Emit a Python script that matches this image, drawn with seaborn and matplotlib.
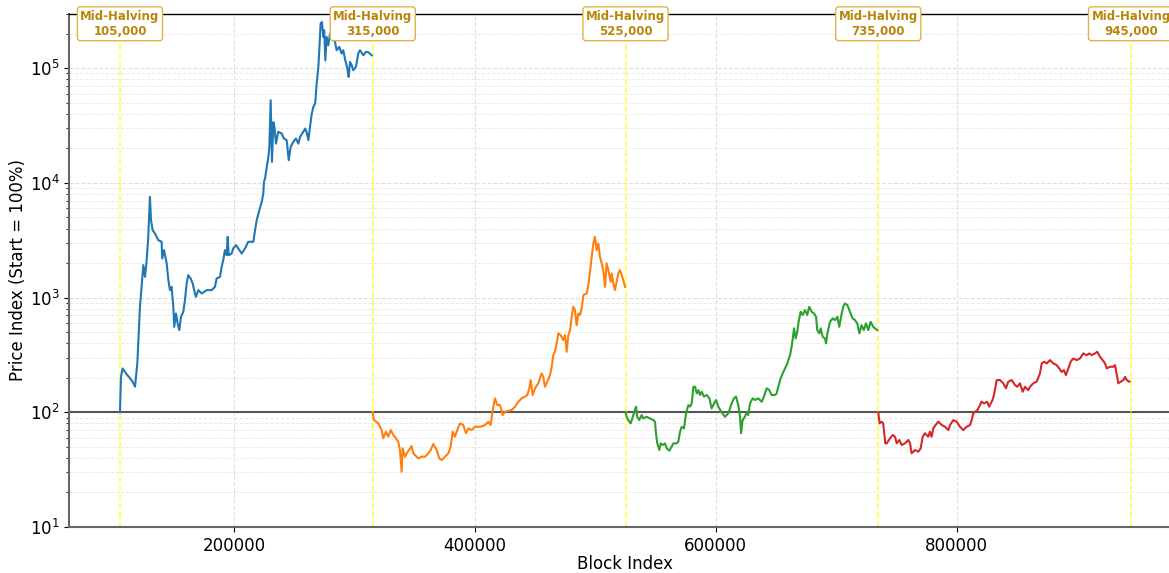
import matplotlib
matplotlib.use("Agg")
import matplotlib.pyplot as plt
import matplotlib.transforms as mtransforms
import numpy as np
import pandas as pd
import seaborn as sns

# Price index per halving-centred cycle (start of each cycle = 100)
cycle1_blocks = [105000, 105800, 107200, 110500, 113000, 115500, 117500, 119400, 120200, 121600,
                 124400, 125800, 127200, 128500, 129900, 130800, 132100, 134100, 136800, 139600,
                 140100, 141600, 143800, 145200, 146500, 147900, 149300, 150100, 151500, 152900,
                 154300, 155700, 157600, 159000, 160400, 161700, 163700, 165400, 167300, 168100,
                 170100, 172900, 177000, 181200, 183900, 185300, 188100, 189500, 190800, 192200,
                 193600, 194500, 195300, 197800, 199100, 201400, 203300, 206100, 208900, 211600,
                 215800, 217200, 218600, 220800, 222800, 224100, 224600, 225500, 227400, 228300,
                 229100, 230200, 231300, 232400, 233300, 234600, 236500, 239300, 241200, 243500,
                 245200, 246800, 249000, 251200, 253200, 254600, 257300, 258900, 260000, 261500,
                 262900, 264300, 265600, 267200, 268400, 269800, 270600, 271700, 272800, 273900,
                 274700, 275600, 276700, 278100, 279500, 281500, 283600, 285000, 287200, 289100,
                 290500, 292200, 293900, 295000, 296100, 297500, 298800, 301000, 303000, 304400,
                 307200, 309400, 311300, 314100]
cycle1_index = [100, 204, 241, 215, 200, 185, 167, 267, 399, 832,
                1919, 1517, 2124, 3390, 7550, 4730, 3873, 3623, 3170, 3069,
                2196, 2594, 1987, 1422, 1162, 1241, 832, 556, 728, 596,
                521, 681, 752, 950, 1330, 1570, 1469, 1330, 1086, 1016,
                1162, 1086, 1162, 1162, 1241, 1469, 1517, 1857, 2124, 2594,
                2344, 3390, 2344, 2425, 2685, 2870, 2685, 2425, 2685, 3069,
                3069, 3873, 4730, 5790, 6840, 8090, 10200, 10900, 14750, 16870,
                20600, 52600, 15250, 33900, 30800, 22000, 27900, 27000, 24400, 23600,
                15770, 20600, 22800, 24400, 22000, 25200, 27900, 29800, 27900, 23600,
                30800, 40100, 45800, 49300, 73300, 102500, 143500, 245000, 253000, 187500,
                214300, 117000, 187500, 158500, 200500, 187500, 170000, 143500, 153500, 134300,
                143500, 117000, 99500, 84000, 113500, 106200, 96000, 102500, 134300, 143500,
                129700, 138700, 138000, 129700]

cycle2_blocks = [315000, 316000, 319600, 322400, 323700, 326000, 327900, 329900, 332100, 334300,
                 336200, 337600, 339000, 339900, 341800, 343200, 346000, 347300, 348700, 350100,
                 352800, 355600, 358400, 361100, 363100, 365300, 368100, 370300, 372300, 375000,
                 377800, 379700, 381400, 383300, 385200, 387500, 390200, 392500, 394400, 397200,
                 399900, 404100, 408300, 411000, 413000, 414700, 416600, 418500, 420700, 423000,
                 424900, 427600, 430400, 433200, 436000, 438700, 441500, 443400, 445100, 446200,
                 447900, 449800, 452500, 455300, 456700, 458100, 460000, 462300, 463700, 465000,
                 466400, 467800, 469200, 471100, 473300, 474700, 476100, 477500, 478900, 480300,
                 481600, 483000, 484400, 485800, 487200, 488600, 490000, 492700, 494100, 495500,
                 496900, 498300, 499600, 501000, 502400, 503800, 505200, 506500, 508000, 509300,
                 510700, 512700, 513500, 514900, 516200, 517600, 519000, 520400, 521800, 523200,
                 524600]
cycle2_index = [100, 85.5, 80.1, 70, 59.3, 67.7, 61.2, 70, 63.4, 59.3,
                55.3, 46.9, 30.3, 48.5, 41, 43.9, 48.5, 50.8, 43.9, 42.4,
                39.7, 41, 41, 43.9, 46.9, 52.9, 46.9, 39.7, 38.4, 41,
                43.9, 50.1, 67.7, 61.2, 70, 80.1, 77.5, 65.7, 72.4, 70,
                74.8, 74.8, 77.5, 82.8, 77.5, 104.7, 132.4, 115.6, 115.6, 94.6,
                101, 103, 104.7, 112, 123.6, 132.4, 137, 141.5, 161.8, 191,
                141.5, 162, 179, 218, 204, 167, 185, 211, 249.5, 315,
                337, 399, 487.5, 471, 427, 471, 337, 471, 521, 681,
                832, 778, 575, 728, 705, 805, 1052, 1086, 1285, 1680,
                2270, 2966, 3390, 2594, 2966, 2270, 1987, 1737, 1241, 1987,
                1737, 1375, 1625, 1330, 1162, 1375, 1625, 1737, 1570, 1422,
                1241]

cycle3_blocks = [525000, 526000, 527300, 529300, 531500, 533700, 534800, 536400, 538400, 539800,
                 542600, 545300, 548100, 549500, 550300, 551400, 553100, 554200, 555900, 557800,
                 559200, 561400, 563300, 564700, 567500, 568800, 570300, 571700, 573600, 575300,
                 577200, 578600, 580000, 581400, 582800, 584200, 585600, 586900, 588300, 590200,
                 592500, 594700, 596500, 597900, 600200, 602100, 604900, 607700, 610400, 613200,
                 615100, 616800, 618700, 620100, 621000, 622300, 624200, 625600, 627000, 628400,
                 630600, 632600, 635300, 638100, 640000, 642300, 644500, 646400, 649200, 650600,
                 651900, 653900, 655600, 657500, 658900, 660300, 661700, 663000, 663800, 665000,
                 666400, 667700, 668800, 670500, 672200, 674100, 676000, 677600, 679700, 681600,
                 683300, 684300, 686000, 687200, 688800, 690700, 691600, 692700, 694900, 697100,
                 699000, 701000, 702600, 704600, 705900, 707300, 709300, 711500, 713700, 715600,
                 717500, 719300, 721100, 723000, 724800, 726700, 728600, 730800, 732200, 734200]
cycle3_index = [100, 91.4, 85.5, 80.1, 94.6, 112, 91.4, 85.5, 94.6, 88.5,
                91.4, 88.5, 85.5, 82.8, 65.7, 53.6, 46.9, 53.6, 51.9, 53.6,
                48.5, 46.3, 50.1, 53.6, 53.6, 55.3, 67.7, 74.8, 72.4, 98,
                115.6, 112, 119.6, 167, 167, 146, 156, 141.5, 151, 137,
                141.5, 132.4, 108, 115.6, 128, 112, 100, 91.4, 98, 119.6,
                132.4, 137, 115.6, 91.4, 65.7, 85.5, 91.4, 100, 94.6, 119.6,
                132.4, 128, 132.4, 123.6, 137, 162, 156, 141.5, 141.5, 146,
                167, 198, 218, 241.5, 258, 285, 315, 373, 427, 540,
                441, 504, 615, 752, 705, 778, 705, 832, 752, 728,
                681, 521, 487.5, 540, 455, 441, 399, 487.5, 615, 659,
                637, 681, 556, 728, 832, 890, 861, 752, 659, 637,
                596, 487.5, 575, 521, 596, 521, 615, 556, 540, 521]

cycle4_blocks = [735000, 736100, 737800, 739100, 740800, 742000, 744700, 747000, 748900, 750300,
                 752500, 754400, 757200, 760000, 761400, 762700, 765500, 768200, 770200, 771900,
                 773800, 776500, 777900, 779300, 780700, 782600, 784900, 787700, 790400, 793200,
                 794600, 797300, 800100, 802900, 805600, 808400, 811200, 812600, 813900, 817400,
                 819500, 820700, 822900, 825400, 827100, 829900, 831100, 833400, 836100, 838800,
                 841100, 843000, 845800, 848600, 850500, 852700, 855000, 856900, 859600, 861000,
                 863800, 866600, 869300, 870800, 872700, 875000, 877700, 880400, 883200, 885300,
                 887400, 889300, 890900, 892900, 894800, 897000, 899800, 902600, 905300, 908100,
                 910300, 912300, 915000, 916900, 919200, 921400, 923400, 924800, 927500, 930300,
                 931700, 934400, 936400, 938600, 940000, 941400, 943600]
cycle4_index = [100, 80.1, 82.8, 80.1, 53.6, 53.6, 59.3, 63.4, 61.2, 53.6,
                57.4, 51.9, 53.6, 57.4, 53.6, 43.9, 46.9, 45.3, 48.5, 61.2,
                65.7, 61.2, 67.7, 61.2, 72.4, 77.5, 82.8, 77.5, 74.8, 70,
                77.5, 85.5, 82.8, 74.8, 70, 74.8, 77.5, 85.5, 98, 104.7,
                115.6, 123.6, 119.6, 123.6, 112, 128, 141.5, 191, 191, 179,
                162, 185, 191, 173, 167, 179, 151, 167, 156, 167,
                179, 185, 218, 267, 276, 267, 285, 267, 258, 241.5,
                225, 233, 211, 241.5, 276, 295, 285, 295, 326, 315,
                326, 315, 326, 337, 305, 285, 267, 241.5, 249.5, 249.5,
                258, 179, 185, 191, 204, 191, 185]

cycle_names = ["Cycle 1", "Cycle 2", "Cycle 3", "Cycle 4"]
mid_halvings = [105000, 315000, 525000, 735000, 945000]

frames = []
for name, blk, idx in zip(cycle_names,
                          [cycle1_blocks, cycle2_blocks, cycle3_blocks, cycle4_blocks],
                          [cycle1_index, cycle2_index, cycle3_index, cycle4_index]):
    frames.append(pd.DataFrame({"block": blk, "index": idx, "cycle": name}))
df = pd.concat(frames, ignore_index=True)

W, H = 1169, 573
fig = plt.figure(figsize=(W / 100, H / 100), dpi=100)
ax = fig.add_axes([69.3 / W, 46 / H, (1179.8 - 69.3) / W, (527 - 13.5) / H])

palette = dict(zip(cycle_names, sns.color_palette("tab10", 4)))
sns.lineplot(data=df, x="block", y="index", hue="cycle", palette=palette,
             estimator=None, sort=False, legend=False, linewidth=1.5, ax=ax, zorder=3)

ax.set_yscale("log")
ax.set_ylim(10, 3e5)
ax.set_xlim(62900, 985500)

ax.axhline(100, color="#555555", linewidth=1.5, zorder=2)

trans = mtransforms.blended_transform_factory(ax.transData, ax.transAxes)
for mh in mid_halvings:
    ax.axvline(mh, color="#FFFF33", linestyle="--", linewidth=1.2, alpha=0.9, zorder=2)
    ax.text(mh, 0.98, f"Mid-Halving\n{mh:,}", transform=trans, ha="center", va="center",
            fontsize=8.5, fontweight="bold", color="#B8860B", clip_on=False, zorder=6,
            bbox=dict(boxstyle="round,pad=0.25", facecolor="white",
                      edgecolor="#E3B341", linewidth=1.0))

ax.grid(True, which="major", linestyle="--", color="#cccccc", alpha=0.6, linewidth=0.8)
ax.grid(True, which="minor", axis="y", linestyle="--", color="#dddddd", alpha=0.6, linewidth=0.7)
ax.set_axisbelow(True)

for side in ["left", "bottom"]:
    ax.spines[side].set_color("#666666")
    ax.spines[side].set_linewidth(1.5)
ax.spines["top"].set_color("black")
ax.spines["top"].set_linewidth(1.0)

ax.tick_params(axis="both", labelsize=12)
ax.set_xlabel("Block Index", fontsize=12, labelpad=0)
ax.set_ylabel("Price Index (Start = 100%)", fontsize=12, labelpad=1.5)

fig.savefig("out.png", dpi=100)
